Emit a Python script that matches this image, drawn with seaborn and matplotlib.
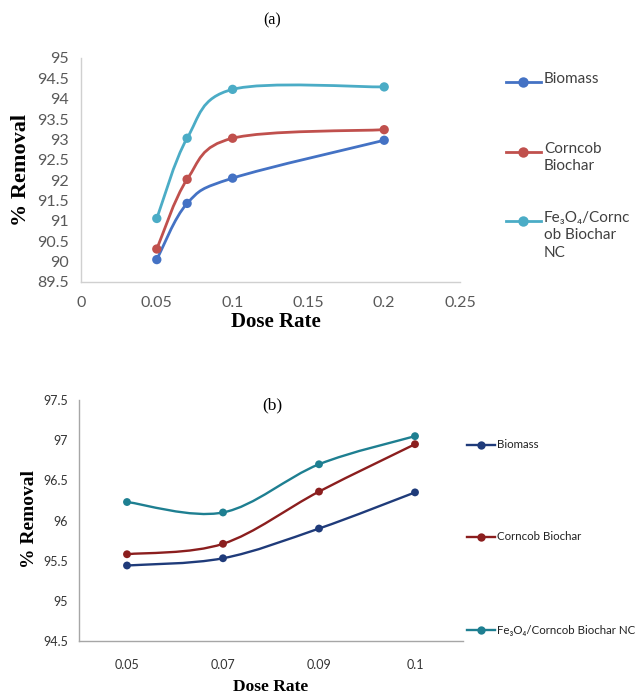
import numpy as np
import pandas as pd
import matplotlib
matplotlib.use("Agg")
import matplotlib.pyplot as plt
import seaborn as sns
from matplotlib.path import Path
from matplotlib.patches import PathPatch
from matplotlib.lines import Line2D

# ---------------- data ----------------
series_names = ["Biomass", "Corncob Biochar", "Fe₃O₄/Corncob Biochar NC"]

dose_a = [0.05, 0.07, 0.1, 0.2]
biomass_a = [90.05, 91.43, 92.05, 92.98]
corncob_a = [90.31, 92.02, 93.03, 93.24]
fe3o4_a = [91.06, 93.03, 94.23, 94.29]

dose_b = ["0.05", "0.07", "0.09", "0.1"]
biomass_b = [95.44, 95.53, 95.90, 96.35]
corncob_b = [95.58, 95.71, 96.36, 96.95]
fe3o4_b = [96.23, 96.10, 96.70, 97.05]

yticks_a = [89.5, 90, 90.5, 91, 91.5, 92, 92.5, 93, 93.5, 94, 94.5, 95]
xticks_a = [0, 0.05, 0.1, 0.15, 0.2, 0.25]
yticks_b = [94.5, 95, 95.5, 96, 96.5, 97, 97.5]

legend_a = ["Biomass", "Corncob\nBiochar", "Fe₃O₄/Cornc\nob Biochar\nNC"]
legend_b = ["Biomass", "Corncob Biochar", "Fe₃O₄/Corncob Biochar NC"]

colors_a = ["#4472C4", "#C0504D", "#4BACC6"]
colors_b = ["#1F3B7A", "#8B1E1E", "#1E7F91"]

SANS = ["Lato", "DejaVu Sans"]
SERIF = ["Liberation Serif", "DejaVu Serif"]


def smooth_path(xs, ys):
    """Excel-like smoothed line: cubic Bezier through the points."""
    xs = np.asarray(xs, float)
    ys = np.asarray(ys, float)
    P = np.column_stack([xs, ys])
    n = len(P)
    verts = [P[0]]
    codes = [Path.MOVETO]
    for i in range(n - 1):
        p0 = P[i - 1] if i > 0 else P[i]
        p1 = P[i]
        p2 = P[i + 1]
        p3 = P[i + 2] if i + 2 < n else P[i + 1]
        c1 = p1 + (p2 - p0) / 6.0
        c2 = p2 - (p3 - p1) / 6.0
        verts += [c1, c2, p2]
        codes += [Path.CURVE4] * 3
    return Path(verts, codes)


fig = plt.figure(figsize=(6.35, 6.97), dpi=100)
fig.patch.set_facecolor("white")

# ---------------- chart (a) ----------------
axa = fig.add_axes([81 / 635, 1 - 282 / 697, 379 / 635, 224 / 697])
df_a = pd.DataFrame({
    "dose": dose_a * 3,
    "removal": biomass_a + corncob_a + fe3o4_a,
    "series": sum([[s] * len(dose_a) for s in series_names], []),
})
for ys, c in zip([biomass_a, corncob_a, fe3o4_a], colors_a):
    axa.add_patch(PathPatch(smooth_path(dose_a, ys), fill=False, edgecolor=c,
                            lw=2.0, zorder=2, capstyle="round"))
sns.scatterplot(data=df_a, x="dose", y="removal", hue="series",
                palette=dict(zip(series_names, colors_a)), s=45,
                edgecolor=None, linewidth=0, legend=False, ax=axa, zorder=3)
axa.set_xlim(0, 0.25)
axa.set_ylim(89.5, 95)
axa.set_xticks(xticks_a)
axa.set_xticklabels(["0", "0.05", "0.1", "0.15", "0.2", "0.25"])
axa.set_yticks(yticks_a)
axa.set_yticklabels([f"{v:g}" for v in yticks_a])
for lab in axa.get_xticklabels() + axa.get_yticklabels():
    lab.set_fontfamily(SANS)
    lab.set_fontsize(11.5)
    lab.set_color("#595959")
axa.tick_params(length=0, pad=9)
axa.tick_params(axis="x", pad=10)
for s in ["top", "right"]:
    axa.spines[s].set_visible(False)
for s in ["left", "bottom"]:
    axa.spines[s].set_color("#d0d0d0")
    axa.spines[s].set_linewidth(1.0)
axa.set_xlabel("")
axa.set_ylabel("")
axa.set_facecolor("white")

fig.text(272 / 635, 1 - 20 / 697, "(a)", family=SERIF, fontsize=11.5,
         ha="center", va="center")
fig.text(21 / 635, 1 - 170 / 697, "% Removal", family=SERIF, fontsize=16,
         fontweight="bold", rotation=90, ha="center", va="center")
fig.text(276 / 635, 1 - 322 / 697, "Dose Rate", family=SERIF, fontsize=15,
         fontweight="bold", ha="center", va="center")

leg_y_a = [82, 152, 221]
for lab, c, y in zip(legend_a, colors_a, leg_y_a):
    fig.add_artist(Line2D([506 / 635, 541 / 635], [1 - y / 697, 1 - y / 697],
                          color=c, lw=2.0, marker=None))
    fig.add_artist(Line2D([523 / 635], [1 - y / 697], color=c, marker="o",
                          markersize=7.5, markeredgewidth=0))
    fig.text(544 / 635, 1 - (y - 10) / 697, lab, family=SANS, fontsize=11,
             color="#404040", ha="left", va="top", linespacing=1.3)

# ---------------- chart (b) ----------------
axb = fig.add_axes([79 / 635, 1 - 641 / 697, 384 / 635, 241 / 697])
df_b = pd.DataFrame({
    "dose": dose_b * 3,
    "removal": biomass_b + corncob_b + fe3o4_b,
    "series": sum([[s] * len(dose_b) for s in series_names], []),
})
pos_b = np.arange(len(dose_b))
for ys, c in zip([biomass_b, corncob_b, fe3o4_b], colors_b):
    axb.add_patch(PathPatch(smooth_path(pos_b, ys), fill=False, edgecolor=c,
                            lw=1.7, zorder=2, capstyle="round"))
sns.scatterplot(data=df_b, x="dose", y="removal", hue="series",
                palette=dict(zip(series_names, colors_b)), s=32,
                edgecolor=None, linewidth=0, legend=False, ax=axb, zorder=3)
axb.set_xlim(-0.5, len(dose_b) - 0.5)
axb.set_ylim(94.5, 97.5)
axb.set_xticks(pos_b)
axb.set_xticklabels(dose_b)
axb.set_yticks(yticks_b)
axb.set_yticklabels([f"{v:g}" for v in yticks_b])
for lab in axb.get_xticklabels() + axb.get_yticklabels():
    lab.set_fontfamily(SANS)
    lab.set_fontsize(9)
    lab.set_color("#333333")
axb.tick_params(length=0, pad=8)
axb.tick_params(axis="x", pad=13)
for s in ["top", "right"]:
    axb.spines[s].set_visible(False)
for s in ["left", "bottom"]:
    axb.spines[s].set_color("#a6a6a6")
    axb.spines[s].set_linewidth(1.0)
axb.set_xlabel("")
axb.set_ylabel("")
axb.set_facecolor("white")

fig.text(272 / 635, 1 - 405 / 697, "(b)", family=SERIF, fontsize=12.5,
         ha="center", va="center")
fig.text(30 / 635, 1 - 519 / 697, "% Removal", family=SERIF, fontsize=14,
         fontweight="bold", rotation=90, ha="center", va="center")
fig.text(271 / 635, 1 - 687 / 697, "Dose Rate", family=SERIF, fontsize=12.5,
         fontweight="bold", ha="center", va="center")

leg_y_b = [445, 537, 630]
for lab, c, y in zip(legend_b, colors_b, leg_y_b):
    fig.add_artist(Line2D([467 / 635, 495 / 635], [1 - y / 697, 1 - y / 697],
                          color=c, lw=1.7))
    fig.add_artist(Line2D([481 / 635], [1 - y / 697], color=c, marker="o",
                          markersize=6, markeredgewidth=0))
    fig.text(497 / 635, 1 - y / 697, lab, family=SANS, fontsize=8.3,
             color="#222222", ha="left", va="center")

fig.savefig("out.png", dpi=100, facecolor="white")
